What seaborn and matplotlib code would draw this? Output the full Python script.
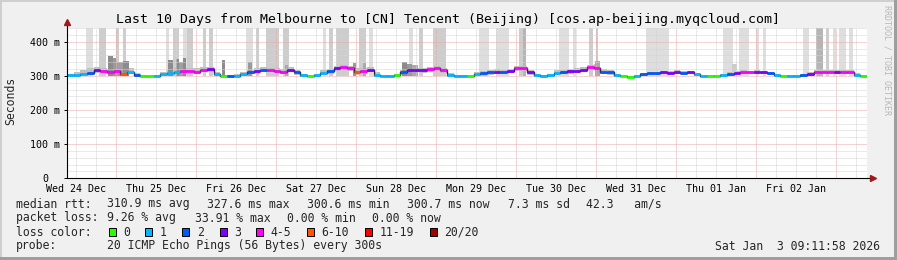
import numpy as np
import pandas as pd
import matplotlib
matplotlib.use("Agg")
import matplotlib.pyplot as plt
from matplotlib.patches import Rectangle
import seaborn as sns

# ---------------- data (2-hour samples, hours since Wed 24 Dec 09:11:58) ----------------
step_h = 2
median_ms = [
    302, 303, 306, 309, 316, 314, 312, 315, 306, 312, 302, 300,
    300, 300, 304, 308, 312, 315, 313, 311, 318, 320, 305, 300,
    300, 301, 305, 310, 314, 318, 318, 315, 312, 318, 310, 302,
    300, 303, 308, 313, 322, 326, 322, 310, 314, 318, 303, 300,
    300, 302, 310, 318, 318, 316, 320, 322, 316, 303, 300, 300,
    301, 306, 307, 310, 312, 312, 314, 324, 322, 310, 302, 300,
    303, 308, 312, 313, 315, 318, 325, 324, 312, 310, 302, 300,
    298, 301, 304, 308, 308, 310, 309, 311, 309, 310, 305, 300,
    300, 300, 302, 306, 309, 311, 310, 311, 310, 308, 302, 300,
    300, 300, 302, 306, 310, 312, 312, 311, 311, 310, 303, 300,
]
loss_index = [
    1, 1, 1, 2, 3, 4, 4, 4, 5, 1, 2, 0,
    0, 1, 1, 1, 1, 4, 4, 4, 4, 3, 1, 0,
    2, 1, 1, 2, 3, 2, 4, 4, 4, 3, 2, 1,
    0, 1, 1, 2, 3, 4, 4, 5, 4, 3, 1, 1,
    1, 0, 2, 3, 3, 3, 4, 4, 4, 1, 1, 1,
    0, 1, 2, 2, 3, 2, 3, 4, 4, 3, 1, 1,
    1, 1, 2, 3, 3, 3, 4, 4, 2, 2, 1, 0,
    0, 1, 2, 2, 2, 3, 3, 3, 2, 3, 1, 1,
    0, 0, 1, 2, 3, 4, 4, 3, 3, 2, 1, 0,
    1, 1, 2, 3, 4, 4, 4, 3, 4, 4, 1, 0,
]
smoke_lo = [
    298, 298, 300, 303, 308, 306, 305, 306, 299, 304, 298, 297,
    297, 297, 299, 302, 305, 306, 305, 304, 310, 312, 300, 297,
    297, 297, 299, 304, 306, 310, 310, 307, 305, 310, 303, 298,
    297, 298, 302, 306, 313, 318, 314, 302, 306, 310, 298, 297,
    297, 298, 303, 310, 310, 309, 312, 314, 308, 298, 297, 297,
    297, 300, 301, 303, 305, 305, 307, 315, 314, 303, 298, 297,
    298, 302, 305, 306, 308, 310, 316, 316, 305, 303, 298, 297,
    295, 297, 299, 303, 303, 305, 304, 306, 304, 305, 301, 297,
    297, 297, 298, 301, 304, 306, 305, 306, 305, 303, 298, 297,
    297, 297, 298, 301, 305, 307, 307, 306, 306, 305, 299, 297,
]
smoke_hi = [
    305, 312, 318, 322, 325, 322, 320, 324, 322, 322, 308, 302,
    301, 302, 312, 318, 322, 324, 322, 322, 326, 326, 312, 302,
    302, 304, 310, 318, 322, 325, 324, 322, 320, 325, 318, 306,
    302, 306, 316, 320, 330, 332, 330, 322, 324, 326, 310, 302,
    302, 306, 318, 326, 324, 322, 326, 328, 322, 308, 302, 302,
    303, 312, 314, 318, 320, 318, 320, 330, 328, 318, 306, 302,
    306, 316, 318, 320, 322, 326, 332, 335, 320, 316, 306, 302,
    301, 303, 308, 312, 312, 314, 314, 316, 314, 314, 308, 302,
    302, 303, 306, 312, 314, 316, 315, 316, 315, 312, 306, 302,
    302, 302, 306, 312, 316, 318, 318, 316, 316, 316, 308, 302,
]

# off-scale ping spikes (start hour, duration hours, shade class)
spike_start = [5.7, 9.6, 14.6, 16.7, 29.7, 31.7, 34.7, 35.9, 40.7, 42.7, 53.7, 56.7,
               59.7, 64.7, 76.7, 78.7, 80.7, 87.7, 90.7, 102.7, 105.7, 109.7, 123.7,
               128.7, 135.7, 136.7, 147.7, 151.7, 156.7, 158.7, 173.7, 177.7, 196.7,
               201.7, 206.7, 208.7, 220.7, 224.7, 227.7, 229.7, 231.7, 234.7]
spike_len = [2.2, 2.1, 1.0, 1.0, 1.0, 2.0, 1.2, 2.0, 1.0, 1.0, 2.2, 1.0,
             4.0, 2.0, 1.0, 1.0, 4.0, 2.0, 1.0, 1.0, 1.0, 4.0, 3.0,
             4.0, 1.0, 1.0, 3.0, 1.0, 1.0, 0.6, 4.0, 3.0, 3.0,
             3.0, 1.0, 1.0, 2.0, 2.0, 1.0, 1.0, 2.0, 1.0]
spike_shade = ['L', 'M', 'M', 'M', 'L', 'M', 'L', 'M', 'M', 'M', 'L', 'M',
               'M', 'M', 'L', 'M', 'M', 'M', 'L', 'L', 'M', 'M', 'L',
               'L', 'M', 'D', 'L', 'L', 'M', 'M', 'L', 'L', 'L',
               'L', 'L', 'L', 'L', 'D', 'M', 'L', 'L', 'L']
spike_top = 450

# dense smoke bursts (start hour, duration hours, top ms, grey)
burst_start = [12.3, 13.8, 14.7, 16.8, 30.3, 32.7, 33.6, 34.8, 46.5, 54.3, 65.4,
               85.8, 88.8, 100.5, 102.0, 103.5, 158.4, 199.5]
burst_len = [1.5, 0.9, 2.1, 1.8, 1.5, 0.9, 1.2, 0.9, 0.9, 1.2, 0.9,
             0.9, 0.9, 1.5, 1.5, 1.8, 1.6, 1.5]
burst_top = [357, 352, 340, 343, 346, 348, 340, 353, 346, 340, 332,
             337, 338, 340, 336, 332, 343, 334]
burst_grey = ['#8c8c8c', '#9a9a9a', '#a0a0a0', '#8c8c8c', '#8c8c8c', '#8c8c8c',
              '#a0a0a0', '#8c8c8c', '#8c8c8c', '#9a9a9a', '#aaaaaa', '#9a9a9a',
              '#aaaaaa', '#8c8c8c', '#9a9a9a', '#aaaaaa', '#aaaaaa', '#cccccc']

loss_labels = ['0', '1', '2', '3', '4-5', '6-10', '11-19', '20/20']
loss_colors = ['#26ff00', '#00b8ff', '#0059ff', '#7e00ff', '#ff00ff', '#ff5500',
               '#ff0000', '#a00000']

day_labels = ['Wed 24 Dec', 'Thu 25 Dec', 'Fri 26 Dec', 'Sat 27 Dec', 'Sun 28 Dec',
              'Mon 29 Dec', 'Tue 30 Dec', 'Wed 31 Dec', 'Thu 01 Jan', 'Fri 02 Jan']
window_hours = 240
start_clock_h = 9 + 11 / 60 + 58 / 3600
y_ticks = [0, 100, 200, 300, 400]
y_tick_labels = ['0', '100 m', '200 m', '300 m', '400 m']
y_max = 441

title = 'Last 10 Days from Melbourne to [CN] Tencent (Beijing) [cos.ap-beijing.myqcloud.com]'
rtt_stats = ['310.9 ms avg', '327.6 ms max', '300.6 ms min', '300.7 ms now', '7.3 ms sd', '42.3   am/s']
loss_stats = ['9.26 % avg', '33.91 % max', '0.00 % min', '0.00 % now']
probe_text = '20 ICMP Echo Pings (56 Bytes) every 300s'
stamp_text = 'Sat Jan  3 09:11:58 2026'

# ---------------- drawing ----------------
sns.set_style('white')
plt.rcParams['font.family'] = ['DejaVu Sans Mono', 'DejaVu Sans']

W, H = 897, 260
fig = plt.figure(figsize=(W / 100, H / 100), dpi=100)
fig.patch.set_facecolor('#f0f0f0')

def fx(px):
    return px / W

def fy(py):
    return 1 - py / H

ax_left, ax_right, ax_top, ax_bottom = 67, 867, 27.7, 178.3
ax = fig.add_axes([fx(ax_left), fy(ax_bottom), (ax_right - ax_left) / W, (ax_bottom - ax_top) / H])
ax.set_facecolor('white')

n = len(median_ms)
t_edges = np.arange(n + 1) * step_h
med_ext = np.append(median_ms, median_ms[-1])
lo_ext = np.append(smoke_lo, smoke_lo[-1])
hi_ext = np.append(smoke_hi, smoke_hi[-1])

shade_map = {'L': '#dedede', 'M': '#cdcdcd', 'D': '#b5b5b5'}
ax.bar(spike_start, [spike_top - 300] * len(spike_start), width=spike_len, bottom=300,
       align='edge', color=[shade_map[s] for s in spike_shade], linewidth=0, zorder=1)
ax.fill_between(t_edges, lo_ext, hi_ext, step='post', color='#bfbfbf', linewidth=0, zorder=1.2)
ax.bar(burst_start, np.array(burst_top) - 300, width=burst_len, bottom=300, align='edge',
       color=burst_grey, linewidth=0, zorder=1.4)

# grid
first_midnight = 24 - start_clock_h
minor_v = np.arange(first_midnight - 12, window_hours, 6)
for xv in minor_v:
    is_major = abs(((xv - first_midnight) / 24) - round((xv - first_midnight) / 24)) < 1e-6
    ax.axvline(xv, color='#eea8a8' if is_major else '#d4d4d4', lw=0.72,
               ls=(0, (1, 1)), zorder=2.5)
for yv in range(20, y_max, 20):
    ax.axhline(yv, color='#eea8a8' if yv % 100 == 0 else '#d4d4d4', lw=0.72,
               ls=(0, (1, 1)), zorder=2.5)

# median line
df = pd.DataFrame({'hours': t_edges, 'median': med_ext})
sns.lineplot(data=df, x='hours', y='median', drawstyle='steps-post', color='#202020',
             lw=1.0, ax=ax, zorder=3)
ax.hlines(median_ms, t_edges[:-1], t_edges[1:], colors=[loss_colors[k] for k in loss_index],
          lw=2.0, zorder=4)

ax.set_xlim(0, window_hours)
ax.set_ylim(0, y_max)
for s in ax.spines.values():
    s.set_visible(False)

# axes with arrows
ax.plot([0, 0], [0, 1.035], transform=ax.transAxes, color='black', lw=0.8, clip_on=False, zorder=6)
ax.plot([0, 1.004], [0, 0], transform=ax.transAxes, color='black', lw=0.8, clip_on=False, zorder=6)
ax.plot([0], [1.04], marker='^', ms=4, color='#a01818', transform=ax.transAxes, clip_on=False, zorder=7)
ax.plot([1.007], [0], marker='>', ms=4, color='#a01818', transform=ax.transAxes, clip_on=False, zorder=7)

noon = first_midnight - 12 + 24 * np.arange(len(day_labels))
ax.set_xticks(noon)
ax.set_xticklabels(day_labels)
ax.set_yticks(y_ticks)
ax.set_yticklabels(y_tick_labels)
ax.tick_params(axis='x', length=0, pad=4.2, labelsize=7.2, colors='black')
ax.tick_params(axis='y', length=2.2, width=0.7, direction='out', pad=13.5, labelsize=7.2,
               colors='black', left=True)
for lbl in ax.get_yticklabels():
    lbl.set_horizontalalignment('center')
ax.set_xlabel('')
ax.set_ylabel('')

# texts
fig.text(fx(448), fy(19), title, ha='center', va='center', fontsize=9.5, color='black')
fig.text(fx(11), fy(101), 'Seconds', ha='center', va='center', rotation=90, fontsize=8.3)
fig.text(fx(886.5), fy(60), 'RRDTOOL / TOBI OETIKER', ha='center', va='center',
         rotation=270, fontsize=6, color='#b8b8b8')

fs = 8.3
row_y = [204, 218, 232, 246]
fig.text(fx(16), fy(row_y[0]), 'median rtt:', ha='left', va='center', fontsize=fs)
for xp, s in zip([107, 207, 307, 407, 508, 586], rtt_stats):
    fig.text(fx(xp), fy(row_y[0]), s, ha='left', va='center', fontsize=fs)
fig.text(fx(16), fy(row_y[1]), 'packet loss:', ha='left', va='center', fontsize=fs)
for xp, s in zip([107, 195, 287, 372], loss_stats):
    fig.text(fx(xp), fy(row_y[1]), s, ha='left', va='center', fontsize=fs)
fig.text(fx(16), fy(row_y[2]), 'loss color:', ha='left', va='center', fontsize=fs)
label_x = [123.3, 160, 196.7, 234.3, 270.7, 321.7, 379.5, 444.5]
for xp, lab, col in zip(label_x, loss_labels, loss_colors):
    fig.add_artist(Rectangle((fx(xp - 14.6), fy(row_y[2] + 4)), 7 / W, 8 / H,
                             transform=fig.transFigure, facecolor=col, edgecolor='black', lw=0.7))
    fig.text(fx(xp), fy(row_y[2]), lab, ha='left', va='center', fontsize=fs)
fig.text(fx(16), fy(row_y[3]), 'probe:', ha='left', va='center', fontsize=fs)
fig.text(fx(107), fy(row_y[3]), probe_text, ha='left', va='center', fontsize=fs)
fig.text(fx(880), fy(row_y[3]), stamp_text, ha='right', va='center', fontsize=fs)

# frame shading
fig.add_artist(Rectangle((0, 1 - 2 / H), 1, 2 / H, transform=fig.transFigure, facecolor='#cfcfcf', lw=0))
fig.add_artist(Rectangle((0, 0), 2 / W, 1, transform=fig.transFigure, facecolor='#cfcfcf', lw=0))
fig.add_artist(Rectangle((0, 0), 1, 3 / H, transform=fig.transFigure, facecolor='#9e9e9e', lw=0))
fig.add_artist(Rectangle((1 - 3 / W, 0), 3 / W, 1, transform=fig.transFigure, facecolor='#9e9e9e', lw=0))

fig.savefig('out.png', dpi=100, facecolor=fig.get_facecolor())
